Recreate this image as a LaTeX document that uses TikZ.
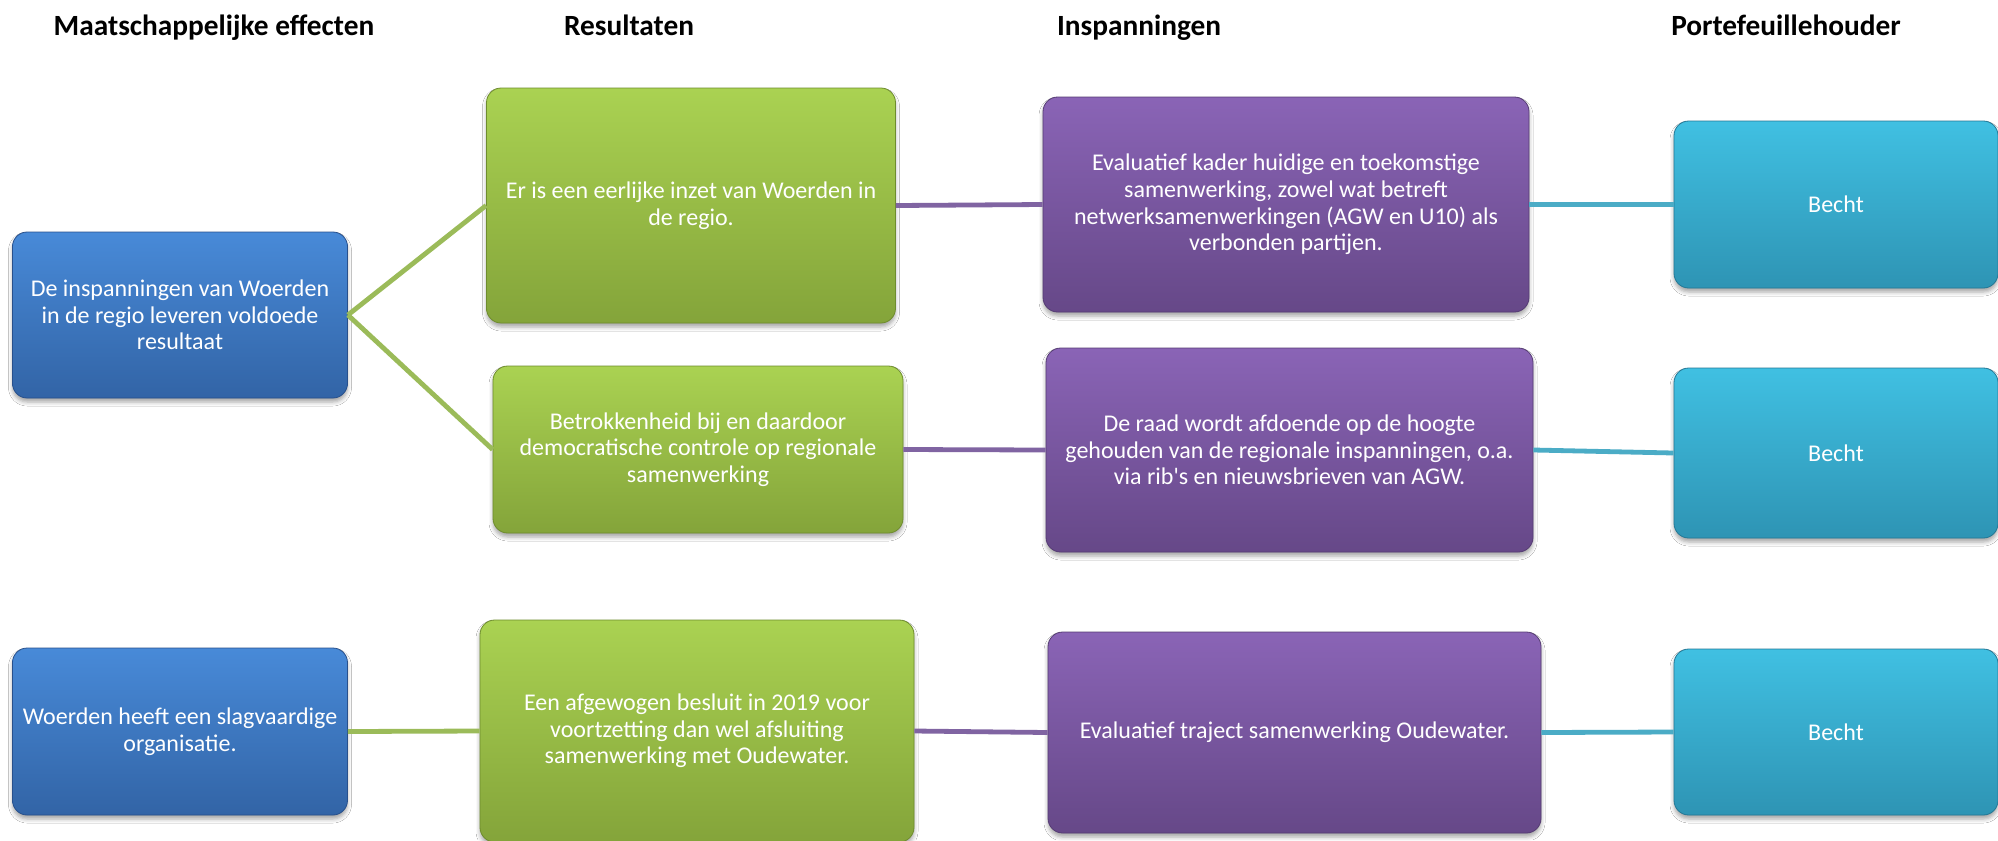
\documentclass[tikz,border=0pt]{standalone}
\usepackage{fontspec}
\setmainfont{Carlito}[Ligatures=TeXOff]
\usetikzlibrary{shadows.blur}
\definecolor{blueT}{RGB}{72,138,216}
\definecolor{blueB}{RGB}{50,100,166}
\definecolor{blueE}{RGB}{40,80,140}
\definecolor{greenT}{RGB}{170,210,82}
\definecolor{greenB}{RGB}{132,164,58}
\definecolor{greenE}{RGB}{110,140,45}
\definecolor{purpT}{RGB}{138,100,182}
\definecolor{purpB}{RGB}{102,72,136}
\definecolor{purpE}{RGB}{85,60,115}
\definecolor{cyanT}{RGB}{64,192,226}
\definecolor{cyanB}{RGB}{46,148,180}
\definecolor{cyanE}{RGB}{35,120,150}
\definecolor{lgreen}{RGB}{155,187,89}
\definecolor{lpurp}{RGB}{128,100,162}
\definecolor{lcyan}{RGB}{75,172,198}
\begin{document}
\begin{tikzpicture}[x=0.75pt,y=-0.75pt,
  box/.style={rectangle, rounded corners=11pt, align=center, text=white,
    font=\fontsize{18}{20}\selectfont, inner sep=0pt, line width=0.6pt,
    blur shadow={shadow xshift=0pt, shadow yshift=-3pt, shadow blur radius=3pt, shadow opacity=35}},
  wh/.style 2 args={minimum width=#1*0.75pt, minimum height=#2*0.75pt},
  bluebox/.style={box, top color=blueT, bottom color=blueB, draw=blueE},
  greenbox/.style={box, top color=greenT, bottom color=greenB, draw=greenE},
  purpbox/.style={box, top color=purpT, bottom color=purpB, draw=purpE},
  cyanbox/.style={box, top color=cyanT, bottom color=cyanB, draw=cyanE},
  head/.style={anchor=base, font=\fontsize{22}{26}\selectfont\bfseries, text=black},
  conn/.style={line width=3.6pt}
]
\clip (0,0) rectangle (1998,840);
\fill[white] (0,0) rectangle (1998,840);

\node[head] (h1) at (214,35) {Maatschappelijke effecten};
\node[head] (h2) at (629,35) {Resultaten};
\node[head] (h3) at (1139,35) {Inspanningen};
\node[head] (h4) at (1786,35) {Portefeuillehouder};

\node[bluebox, wh={335}{166}] (b1) at (180,315) {De inspanningen van Woerden\\in de regio leveren voldoede\\resultaat};
\node[bluebox, wh={335}{167}] (b2) at (180,731.5) {Woerden heeft een slagvaardige\\organisatie.};

\node[greenbox, wh={409}{235}] (g1) at (691,205.5) {Er is een eerlijke inzet van Woerden in\\de regio.};
\node[greenbox, wh={410}{167}] (g2) at (698,449.5) {Betrokkenheid bij en daardoor\\democratische controle op regionale\\samenwerking};
\node[greenbox, wh={434}{222}] (g3) at (697,731) {Een afgewogen besluit in 2019 voor\\voortzetting dan wel afsluiting\\samenwerking met Oudewater.};

\node[purpbox, wh={486}{215}] (p1) at (1286,204.5) {Evaluatief kader huidige en toekomstige\\samenwerking, zowel wat betreft\\netwerksamenwerkingen (AGW en U10) als\\verbonden partijen.};
\node[purpbox, wh={487}{204}] (p2) at (1289.5,450) {De raad wordt afdoende op de hoogte\\gehouden van de regionale inspanningen, o.a.\\via rib's en nieuwsbrieven van AGW.};
\node[purpbox, wh={493}{201}] (p3) at (1294.5,732.5) {Evaluatief traject samenwerking Oudewater.};

\node[cyanbox, wh={324}{167}] (c1) at (1836,204.5) {Becht};
\node[cyanbox, wh={324}{170}] (c2) at (1836,453) {Becht};
\node[cyanbox, wh={324}{166}] (c3) at (1836,732) {Becht};

\draw[conn, lgreen] (b1.east) -- (g1.west);
\draw[conn, lgreen] (b1.east) -- (g2.west);
\draw[conn, lgreen] (b2.east) -- (g3.west);
\draw[conn, lpurp] (g1.east) -- (p1.west);
\draw[conn, lpurp] (g2.east) -- (p2.west);
\draw[conn, lpurp] (g3.east) -- (p3.west);
\draw[conn, lcyan] (p1.east) -- (c1.west);
\draw[conn, lcyan] (p2.east) -- (c2.west);
\draw[conn, lcyan] (p3.east) -- (c3.west);
\end{tikzpicture}
\end{document}
